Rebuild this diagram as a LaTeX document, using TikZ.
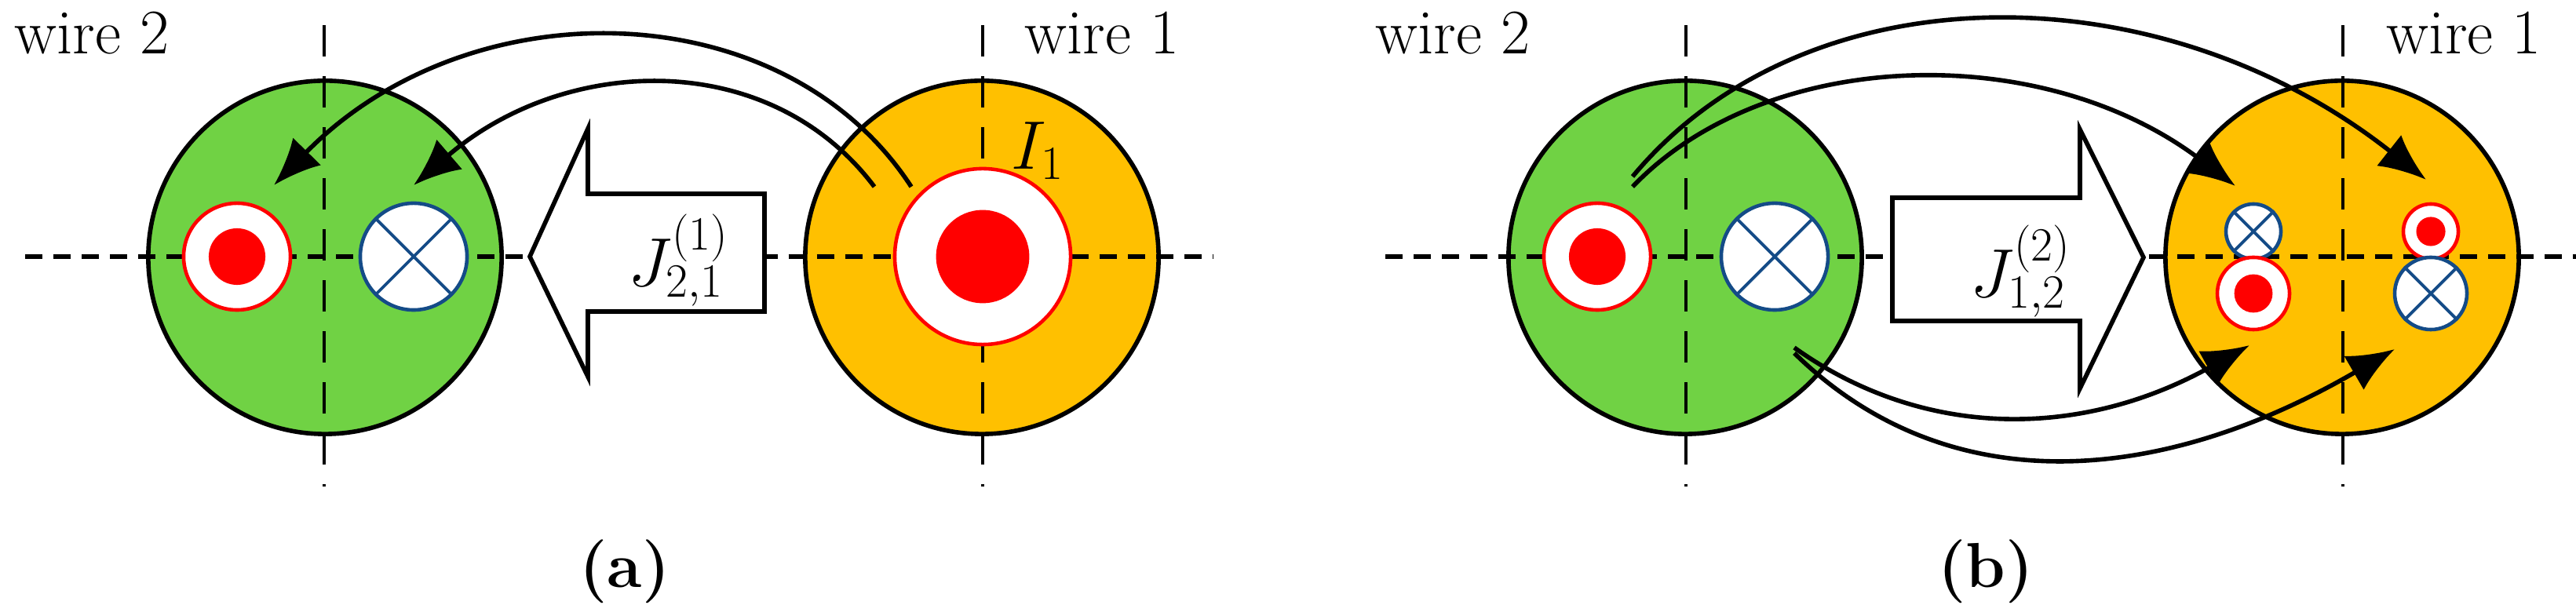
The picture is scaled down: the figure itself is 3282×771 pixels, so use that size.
\documentclass[tikz,border=0pt]{standalone}
\usetikzlibrary{arrows.meta}
\definecolor{wgreen}{RGB}{112,210,68}
\definecolor{worange}{RGB}{255,192,0}
\definecolor{wblue}{RGB}{20,75,135}
\begin{document}
\begin{tikzpicture}[x=0.01cm,y=-0.01cm,
  wire/.style={circle,draw=black,line width=1.6pt,minimum size=4.5cm,inner sep=0pt},
  axisv/.style={line width=1.3pt,dash pattern=on 0.4cm off 0.25cm},
  axish/.style={line width=1.6pt,dash pattern=on 0.22cm off 0.14cm},
  bigarrow/.style={draw=black,fill=white,line width=1.6pt,line join=miter},
  curve/.style={line width=1.6pt,-{Latex[length=0.6cm,width=0.5cm]}},
  lbl/.style={font=\fontsize{23}{26}\selectfont,inner sep=0pt},
  sub/.style={font=\fontsize{23}{26}\selectfont\bfseries,inner sep=0pt}]
\useasboundingbox (0,0) rectangle (3282,771);
\newcommand\tgt[3]{% name, pos, radius(cm)
  \node[circle,draw=red,line width=1.3pt,fill=white,minimum size=#3*2cm,inner sep=0pt] (#1) at #2 {};
  \fill[red] (#1.center) circle ({#3*0.53cm});}
\newcommand\crs[3]{%
  \node[circle,draw=wblue,line width=1.3pt,fill=white,minimum size=#3*2cm,inner sep=0pt] (#1) at #2 {};
  \draw[wblue,line width=1.1pt] (#1.45) -- (#1.225) (#1.135) -- (#1.315);}
% ---------- panel (a)
\node[wire,fill=wgreen] (g1) at (414,328) {};
\node[wire,fill=worange] (o1) at (1251,328) {};
\draw[axisv] (413,32) -- (413,620);
\draw[axisv] (1252,32) -- (1252,620);
\draw[axish] (32,327) -- (1545,327);
\tgt{ta}{(302,327)}{0.68}
\crs{ca}{(527,327)}{0.68}
\tgt{TA}{(1252,327)}{1.12}
\node[lbl] (I1) at (1322,192) {$I_1$};
\draw[bigarrow] (675,327) -- (749,164) -- (749,247) -- (974,247) -- (974,397) -- (749,397) -- (749,480) -- cycle;
\node[lbl] (Ja) at (865,332) {$J_{2,1}^{(1)}$};
\coordinate (a1s) at (1161,238); \coordinate (a1e) at (349,236);
\coordinate (a2s) at (1114,238); \coordinate (a2e) at (527,236);
\draw[curve] (a1s) .. controls (1000,-10) and (600,-20) .. (a1e);
\draw[curve] (a2s) .. controls (980,60) and (720,70) .. (a2e);
\node[lbl,anchor=west] (w2a) at (18,42) {wire 2};
\node[lbl,anchor=west] (w1a) at (1305,42) {wire 1};
\node[sub] (la) at (796,728) {(a)};
% ---------- panel (b)
\node[wire,fill=wgreen] (g2) at (2147,328) {};
\node[wire,fill=worange] (o2) at (2984,328) {};
\draw[axisv] (2148,32) -- (2148,620);
\draw[axisv] (2985,32) -- (2985,620);
\draw[axish] (1765,327) -- (3282,327);
\tgt{tb}{(2035,327)}{0.68}
\crs{cb}{(2261,327)}{0.68}
\crs{cs1}{(2871,295)}{0.35}
\tgt{ts1}{(3097,295)}{0.35}
\tgt{ts2}{(2871,374)}{0.46}
\crs{cs2}{(3097,374)}{0.46}
\draw[bigarrow] (2731,328) -- (2650,165) -- (2650,252) -- (2411,252) -- (2411,409) -- (2650,409) -- (2650,495) -- cycle;
\node[lbl] (Jb) at (2575,346) {$J_{1,2}^{(2)}$};
\coordinate (b1s) at (2080,225); \coordinate (b1e) at (3091,229);
\coordinate (b2s) at (2080,238); \coordinate (b2e) at (2848,237);
\coordinate (b3s) at (2286,443); \coordinate (b3e) at (2866,440);
\coordinate (b4s) at (2286,450); \coordinate (b4e) at (3051,445);
\draw[curve] (b1s) .. controls (2300,-40) and (2750,-40) .. (b1e);
\draw[curve] (b2s) .. controls (2250,60) and (2600,50) .. (b2e);
\draw[curve] (b3s) .. controls (2450,560) and (2650,560) .. (b3e);
\draw[curve] (b4s) .. controls (2480,640) and (2750,620) .. (b4e);
\node[lbl,anchor=west] (w2b) at (1752,42) {wire 2};
\node[lbl,anchor=west] (w1b) at (3040,42) {wire 1};
\node[sub] (lb) at (2530,728) {(b)};
\end{tikzpicture}
\end{document}
